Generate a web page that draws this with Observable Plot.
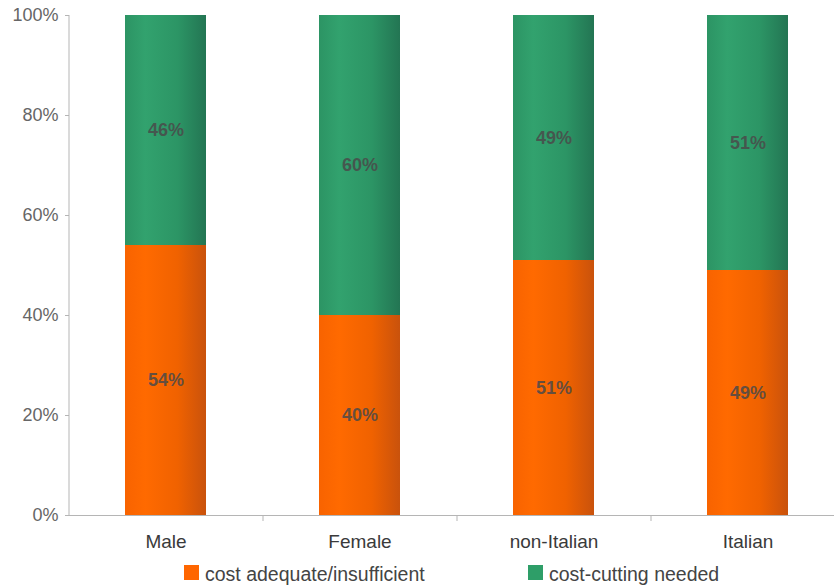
<!DOCTYPE html>
<html><head><meta charset="utf-8">
<script src="https://cdn.jsdelivr.net/npm/d3@7"></script>
<script src="https://cdn.jsdelivr.net/npm/@observablehq/plot@0.6"></script>
<style>
html,body{margin:0;padding:0;background:#fff;overflow:hidden;width:834px;height:585px;}
#legend{position:absolute;left:0;top:555px;width:834px;height:30px;font-family:"Liberation Sans",Arial,sans-serif;font-size:19.5px;color:#444;line-height:22px;}
.sw{position:absolute;top:10px;width:15px;height:15px;}
.lt{position:absolute;top:8px;}
</style></head>
<body>
<div id="chart"></div>
<div id="legend"></div>
<script>
const categories = ["Male", "Female", "non-Italian", "Italian"];
const seriesNames = ["cost adequate/insufficient", "cost-cutting needed"];
const adequate = [54, 40, 51, 49];
const cutting = [46, 60, 49, 51];
const yTicks = [0, 20, 40, 60, 80, 100];
const colors = ["#ff6600", "#2e9e68"];

const data = [];
categories.forEach((c, i) => {
  data.push({cat: c, series: seriesNames[0], value: adequate[i]});
  data.push({cat: c, series: seriesNames[1], value: cutting[i]});
});

const gradIds = ["gOrange", "gGreen"];
const gradStops = [
  [["0%", "#f86300"], ["25%", "#ff6a00"], ["65%", "#f06200"], ["100%", "#c9520c"]],
  [["0%", "#2c9464"], ["25%", "#32a26e"], ["65%", "#2c9565"], ["100%", "#237553"]]
];
function defsMark() {
  const ns = "http://www.w3.org/2000/svg";
  const defs = document.createElementNS(ns, "defs");
  gradIds.forEach((id, k) => {
    const g = document.createElementNS(ns, "linearGradient");
    g.setAttribute("id", id);
    g.setAttribute("x1", "0"); g.setAttribute("x2", "1");
    g.setAttribute("y1", "0"); g.setAttribute("y2", "0");
    gradStops[k].forEach(([o, c]) => {
      const s = document.createElementNS(ns, "stop");
      s.setAttribute("offset", o); s.setAttribute("stop-color", c);
      g.appendChild(s);
    });
    defs.appendChild(g);
  });
  return defs;
}

const step = (845 - 69) / categories.length;
const axisColor = "#b5b5b5";

const chart = Plot.plot({
  width: 834,
  height: 555,
  marginLeft: 69,
  marginRight: 0,
  marginTop: 15,
  marginBottom: 40,
  style: {fontFamily: "'Liberation Sans', Arial, sans-serif", background: "#fff", overflow: "visible"},
  x: {domain: categories, range: [69, 845], paddingInner: 0.58, paddingOuter: 0.29, label: null},
  y: {type: "linear", domain: [0, 100], label: null},
  color: {domain: seriesNames, range: gradIds.map(id => `url(#${id})`)},
  marks: [
    defsMark,
    Plot.barY(data, Plot.stackY({x: "cat", y: "value", fill: "series", order: seriesNames})),
    Plot.text(data, Plot.stackY({x: "cat", y: "value", z: "series", order: seriesNames,
      text: d => d.value + "%", fill: "#4a4a4a", fillOpacity: 0.85, fontWeight: "bold", fontSize: 18})),
    Plot.ruleX([categories[0]], {x: d => d, dx: -step / 2, y1: 0, y2: 100, stroke: axisColor}),
    Plot.ruleY([0], {stroke: axisColor}),
    Plot.ruleX(categories.slice(1), {x: d => d, dx: -step / 2, y1: 0, y2: -1.2, stroke: axisColor}),
    Plot.axisY({ticks: yTicks, tickFormat: d => d + "%", tickSize: 4, tickPadding: 7, fontSize: 18, color: "#666", stroke: axisColor}),
    Plot.axisX({tickSize: 0, tickPadding: 19, fontSize: 19, color: "#3a3a3a"})
  ]
});
document.getElementById("chart").appendChild(chart);

const legend = document.getElementById("legend");
const legendX = [184, 528];
seriesNames.forEach((s, i) => {
  const sw = document.createElement("div");
  sw.className = "sw"; sw.style.left = legendX[i] + "px"; sw.style.background = colors[i];
  const t = document.createElement("div");
  t.className = "lt"; t.style.left = (legendX[i] + 21) + "px"; t.textContent = s;
  legend.appendChild(sw); legend.appendChild(t);
});
</script>
</body></html>
